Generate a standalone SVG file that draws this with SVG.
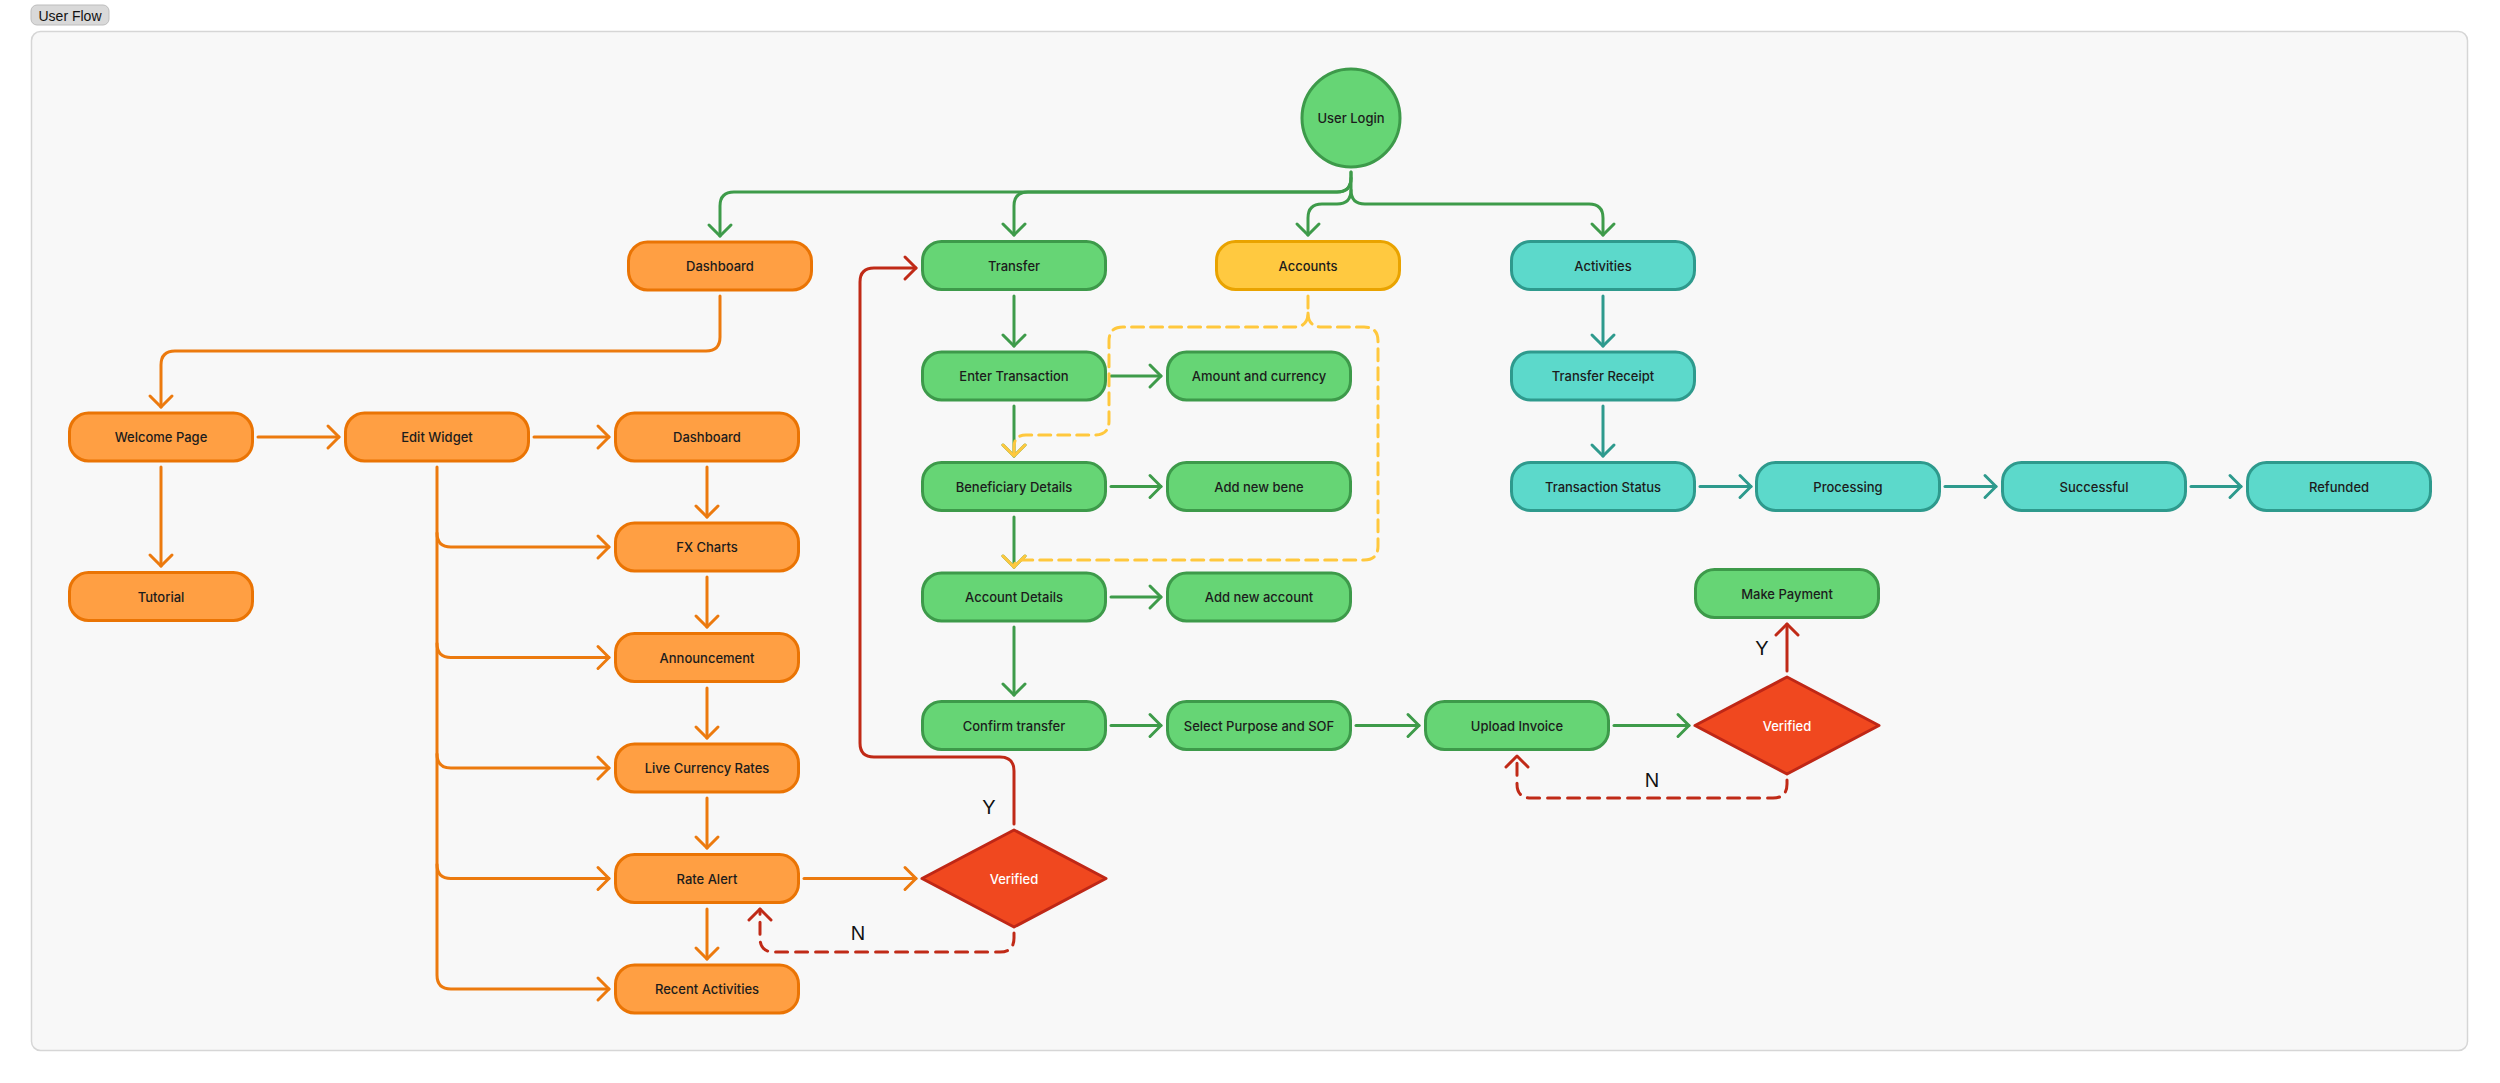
<svg xmlns="http://www.w3.org/2000/svg" width="2500" height="1083" viewBox="0 0 2500 1083">
<defs>
<style>
.t{font-family:Inter,"Noto Sans","Liberation Sans",sans-serif;font-size:13px;font-weight:500;fill:#1c1c1c;text-anchor:middle;dominant-baseline:central}
.tw{font-family:Inter,"Noto Sans","Liberation Sans",sans-serif;font-size:13px;font-weight:500;fill:#ffffff;text-anchor:middle;dominant-baseline:central}
.lbl{font-family:"Liberation Sans",Arial,sans-serif;font-size:20px;fill:#111;text-anchor:middle;dominant-baseline:central}
.or{fill:#FF9F43;stroke:#EA7404;stroke-width:3}
.gr{fill:#66D575;stroke:#3D9A4A;stroke-width:3}
.ye{fill:#FFC940;stroke:#E9A300;stroke-width:3}
.te{fill:#5CD9CB;stroke:#2E9A8D;stroke-width:3}
.rd{fill:#F0481F;stroke:#BF2716;stroke-width:3;stroke-linejoin:round}
.c{fill:none;stroke-width:3;stroke-linecap:round;stroke-linejoin:round}
.cg{stroke:#3E9B4A;marker-end:url(#mg)}
.co{stroke:#EC7A0E;marker-end:url(#mo)}
.ct{stroke:#2E9A8D;marker-end:url(#mt)}
.cr{stroke:#C02A17;marker-end:url(#mr)}
.cy{stroke:#FFC83D;marker-end:url(#my)}
.dr{stroke-dasharray:12 8}
.dy{stroke-dasharray:12 7}
</style>
<marker id="mg" viewBox="-14 -14 28 28" markerWidth="28" markerHeight="28" markerUnits="userSpaceOnUse" refX="0" refY="0" orient="auto"><path d="M-11,-11 L0,0 L-11,11" fill="none" stroke="#3E9B4A" stroke-width="3" stroke-linecap="round" stroke-linejoin="round"/></marker>
<marker id="mo" viewBox="-14 -14 28 28" markerWidth="28" markerHeight="28" markerUnits="userSpaceOnUse" refX="0" refY="0" orient="auto"><path d="M-11,-11 L0,0 L-11,11" fill="none" stroke="#EC7A0E" stroke-width="3" stroke-linecap="round" stroke-linejoin="round"/></marker>
<marker id="mt" viewBox="-14 -14 28 28" markerWidth="28" markerHeight="28" markerUnits="userSpaceOnUse" refX="0" refY="0" orient="auto"><path d="M-11,-11 L0,0 L-11,11" fill="none" stroke="#2E9A8D" stroke-width="3" stroke-linecap="round" stroke-linejoin="round"/></marker>
<marker id="mr" viewBox="-14 -14 28 28" markerWidth="28" markerHeight="28" markerUnits="userSpaceOnUse" refX="0" refY="0" orient="auto"><path d="M-11,-11 L0,0 L-11,11" fill="none" stroke="#C02A17" stroke-width="3" stroke-linecap="round" stroke-linejoin="round"/></marker>
<marker id="my" viewBox="-14 -14 28 28" markerWidth="28" markerHeight="28" markerUnits="userSpaceOnUse" refX="0" refY="0" orient="auto"><path d="M-11,-11 L0,0 L-11,11" fill="none" stroke="#FFC83D" stroke-width="3" stroke-linecap="round" stroke-linejoin="round"/></marker>
</defs>
<rect width="2500" height="1083" fill="#ffffff"/>
<g id="frame">
<rect x="31.5" y="31.5" width="2436" height="1019" rx="9" fill="#F8F8F8" stroke="#D6D6D6" stroke-width="1.5"/>
<rect x="31" y="5" width="78" height="20" rx="6" fill="#D9D9D9" stroke="#BDBDBD" stroke-width="1"/>
<text x="70" y="15.5" font-family="'Liberation Sans',Arial,sans-serif" font-size="14" fill="#111" text-anchor="middle" dominant-baseline="central">User Flow</text>
</g>

<g id="nodes">
<g id="n-login"><circle cx="1351" cy="118" r="49" class="gr"/><text x="1351" y="118" class="t">User Login</text></g>
<g id="n-dashboard"><rect x="628.5" y="242" width="183" height="48" rx="19" class="or"/><text x="720" y="266" class="t">Dashboard</text></g>
<g id="n-welcome"><rect x="69.5" y="413" width="183" height="48" rx="19" class="or"/><text x="161" y="437" class="t">Welcome Page</text></g>
<g id="n-edit"><rect x="345.5" y="413" width="183" height="48" rx="19" class="or"/><text x="437" y="437" class="t">Edit Widget</text></g>
<g id="n-dashboard2"><rect x="615.5" y="413" width="183" height="48" rx="19" class="or"/><text x="707" y="437" class="t">Dashboard</text></g>
<g id="n-tutorial"><rect x="69.5" y="572.5" width="183" height="48" rx="19" class="or"/><text x="161" y="596.5" class="t">Tutorial</text></g>
<g id="n-fx"><rect x="615.5" y="523" width="183" height="48" rx="19" class="or"/><text x="707" y="547" class="t">FX Charts</text></g>
<g id="n-announcement"><rect x="615.5" y="633.5" width="183" height="48" rx="19" class="or"/><text x="707" y="657.5" class="t">Announcement</text></g>
<g id="n-live"><rect x="615.5" y="744" width="183" height="48" rx="19" class="or"/><text x="707" y="768" class="t">Live Currency Rates</text></g>
<g id="n-ratealert"><rect x="615.5" y="854.5" width="183" height="48" rx="19" class="or"/><text x="707" y="878.5" class="t">Rate Alert</text></g>
<g id="n-recent"><rect x="615.5" y="965" width="183" height="48" rx="19" class="or"/><text x="707" y="989" class="t">Recent Activities</text></g>

<g id="n-transfer"><rect x="922.5" y="241.5" width="183" height="48" rx="19" class="gr"/><text x="1014" y="265.5" class="t">Transfer</text></g>
<g id="n-enter"><rect x="922.5" y="352" width="183" height="48" rx="19" class="gr"/><text x="1014" y="376" class="t">Enter Transaction</text></g>
<g id="n-amount"><rect x="1167.5" y="352" width="183" height="48" rx="19" class="gr"/><text x="1259" y="376" class="t">Amount and currency</text></g>
<g id="n-bene"><rect x="922.5" y="462.5" width="183" height="48" rx="19" class="gr"/><text x="1014" y="486.5" class="t">Beneficiary Details</text></g>
<g id="n-addbene"><rect x="1167.5" y="462.5" width="183" height="48" rx="19" class="gr"/><text x="1259" y="486.5" class="t">Add new bene</text></g>
<g id="n-accdet"><rect x="922.5" y="573" width="183" height="48" rx="19" class="gr"/><text x="1014" y="597" class="t">Account Details</text></g>
<g id="n-addacc"><rect x="1167.5" y="573" width="183" height="48" rx="19" class="gr"/><text x="1259" y="597" class="t">Add new account</text></g>
<g id="n-confirm"><rect x="922.5" y="701.5" width="183" height="48" rx="19" class="gr"/><text x="1014" y="725.5" class="t">Confirm transfer</text></g>
<g id="n-select"><rect x="1167.5" y="701.5" width="183" height="48" rx="19" class="gr"/><text x="1259" y="725.5" class="t">Select Purpose and SOF</text></g>
<g id="n-upload"><rect x="1425.5" y="701.5" width="183" height="48" rx="19" class="gr"/><text x="1517" y="725.5" class="t">Upload Invoice</text></g>
<g id="n-makepay"><rect x="1695.5" y="569.5" width="183" height="48" rx="19" class="gr"/><text x="1787" y="593.5" class="t">Make Payment</text></g>

<g id="n-accounts"><rect x="1216.5" y="241.5" width="183" height="48" rx="19" class="ye"/><text x="1308" y="265.5" class="t">Accounts</text></g>

<g id="n-activities"><rect x="1511.5" y="241.5" width="183" height="48" rx="19" class="te"/><text x="1603" y="265.5" class="t">Activities</text></g>
<g id="n-receipt"><rect x="1511.5" y="352" width="183" height="48" rx="19" class="te"/><text x="1603" y="376" class="t">Transfer Receipt</text></g>
<g id="n-status"><rect x="1511.5" y="462.5" width="183" height="48" rx="19" class="te"/><text x="1603" y="486.5" class="t">Transaction Status</text></g>
<g id="n-processing"><rect x="1756.5" y="462.5" width="183" height="48" rx="19" class="te"/><text x="1848" y="486.5" class="t">Processing</text></g>
<g id="n-successful"><rect x="2002.5" y="462.5" width="183" height="48" rx="19" class="te"/><text x="2094" y="486.5" class="t">Successful</text></g>
<g id="n-refunded"><rect x="2247.5" y="462.5" width="183" height="48" rx="19" class="te"/><text x="2339" y="486.5" class="t">Refunded</text></g>

<g id="n-verified1"><polygon points="1014,830 1106,878.5 1014,927 922,878.5" class="rd"/><text x="1014" y="878.5" class="tw">Verified</text></g>
<g id="n-verified2"><polygon points="1787,677 1879,725.5 1787,774 1695,725.5" class="rd"/><text x="1787" y="725.5" class="tw">Verified</text></g>
</g>

<g id="connectors">
<path class="c cg" d="M1351,172 L1351,178 Q1351,192 1337,192 L734,192 Q720,192 720,206 L720,236"/>
<path class="c cg" d="M1351,178 Q1351,192 1337,192 L1028,192 Q1014,192 1014,206 L1014,235"/>
<path class="c cg" d="M1351,172 L1351,190 Q1351,204 1337,204 L1322,204 Q1308,204 1308,218 L1308,235"/>
<path class="c cg" d="M1351,190 Q1351,204 1365,204 L1589,204 Q1603,204 1603,218 L1603,235"/>
<path class="c cg" d="M1014,296 L1014,346"/>
<path class="c cg" d="M1014,406 L1014,456"/>
<path class="c cg" d="M1014,517 L1014,567"/>
<path class="c cg" d="M1014,627 L1014,695"/>
<path class="c cg" d="M1111,376 L1161,376"/>
<path class="c cg" d="M1111,486.5 L1161,486.5"/>
<path class="c cg" d="M1111,597 L1161,597"/>
<path class="c cg" d="M1111,725.5 L1161,725.5"/>
<path class="c cg" d="M1356,725.5 L1419,725.5"/>
<path class="c cg" d="M1614,725.5 L1689,725.5"/>

<path class="c co" d="M720,296 L720,337 Q720,351 706,351 L175,351 Q161,351 161,365 L161,407"/>
<path class="c co" d="M258,437 L339,437"/>
<path class="c co" d="M534,437 L609,437"/>
<path class="c co" d="M161,467 L161,566"/>
<path class="c co" d="M437,467 L437,975 Q437,989 451,989 L609,989"/>
<path class="c co" d="M437,533 Q437,547 451,547 L609,547"/>
<path class="c co" d="M437,643.5 Q437,657.5 451,657.5 L609,657.5"/>
<path class="c co" d="M437,754 Q437,768 451,768 L609,768"/>
<path class="c co" d="M437,864.5 Q437,878.5 451,878.5 L609,878.5"/>
<path class="c co" d="M707,467 L707,517"/>
<path class="c co" d="M707,577 L707,627"/>
<path class="c co" d="M707,688 L707,738"/>
<path class="c co" d="M707,798 L707,848"/>
<path class="c co" d="M707,909 L707,959"/>
<path class="c co" d="M804,878.5 L916,878.5"/>

<path class="c cr" d="M1014,824 L1014,771 Q1014,757 1000,757 L874,757 Q860,757 860,743 L860,282 Q860,268 874,268 L916,268"/>
<path class="c cr dr" d="M1014,933 L1014,938 Q1014,952 1000,952 L774,952 Q760,952 760,938 L760,909"/>
<path class="c cr" d="M1787,671 L1787,624"/>
<path class="c cr dr" d="M1787,780 L1787,784 Q1787,798 1773,798 L1531,798 Q1517,798 1517,784 L1517,756"/>

<path class="c ct" d="M1603,296 L1603,346"/>
<path class="c ct" d="M1603,406 L1603,456"/>
<path class="c ct" d="M1700,486.5 L1751,486.5"/>
<path class="c ct" d="M1945,486.5 L1996,486.5"/>
<path class="c ct" d="M2191,486.5 L2241,486.5"/>

<path class="c cy dy" d="M1308,296 L1308,313 Q1308,327 1294,327 L1123,327 Q1109,327 1109,341 L1109,421 Q1109,435 1095,435 L1026,435 Q1014,435 1014,447 L1014,456"/>
<path class="c cy dy" d="M1308,313 Q1308,327 1322,327 L1364,327 Q1378,327 1378,341 L1378,546 Q1378,560 1364,560 L1023,560 Q1014,560 1014,567"/>

<text x="989" y="807" class="lbl">Y</text>
<text x="858" y="933" class="lbl">N</text>
<text x="1762" y="648" class="lbl">Y</text>
<text x="1652" y="780" class="lbl">N</text>
</g>
</svg>
